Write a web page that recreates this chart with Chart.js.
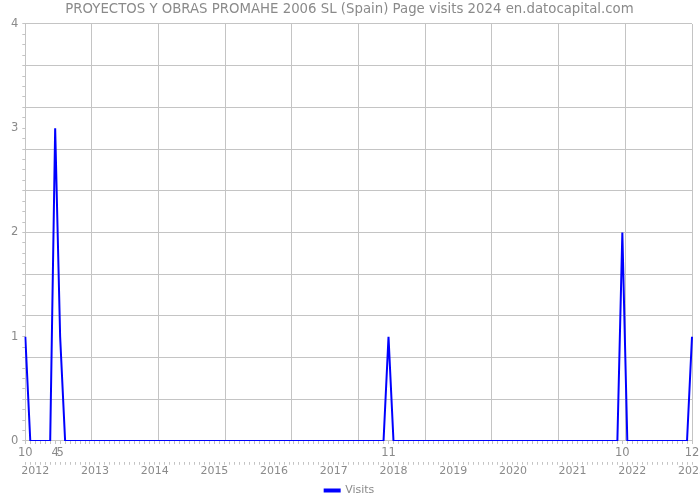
<!DOCTYPE html>
<html>
<head>
<meta charset="utf-8">
<script src="https://cdn.jsdelivr.net/npm/chart.js@4"></script>
<style>
html,body{margin:0;padding:0;background:#fff;}
#wrap{width:700px;height:500px;}
</style>
</head>
<body>
<div id="wrap"><canvas id="c" width="700" height="500"></canvas></div>
<script>
const titleText = 'PROYECTOS Y OBRAS PROMAHE 2006 SL (Spain) Page visits 2024 en.datocapital.com';
const seriesName = 'Visits';
const startYear = 2011;
const startMonth = 10;
// monthly visits, Oct 2011 .. Dec 2022
const visits = [
  1,0,0,                    // 2011 Oct-Dec
  0,0,0,3,1,0,0,0,0,0,0,0,  // 2012
  0,0,0,0,0,0,0,0,0,0,0,0,  // 2013
  0,0,0,0,0,0,0,0,0,0,0,0,  // 2014
  0,0,0,0,0,0,0,0,0,0,0,0,  // 2015
  0,0,0,0,0,0,0,0,0,0,0,0,  // 2016
  0,0,0,0,0,0,0,0,0,0,1,0,  // 2017
  0,0,0,0,0,0,0,0,0,0,0,0,  // 2018
  0,0,0,0,0,0,0,0,0,0,0,0,  // 2019
  0,0,0,0,0,0,0,0,0,0,0,0,  // 2020
  0,0,0,0,0,0,0,0,0,2,0,0,  // 2021
  0,0,0,0,0,0,0,0,0,0,0,1   // 2022
];
</script>
<script>
const monthNums = [];
const yearNums = [];
for (let i = 0; i < visits.length; i++) {
  const m0 = startMonth - 1 + i;
  monthNums.push((m0 % 12) + 1);
  yearNums.push(startYear + Math.floor(m0 / 12));
}
const catLabels = monthNums.map((m, i) => yearNums[i] + '-' + m);

const gridColor = '#c4c4c4';
const textColor = '#8a8a8a';
const fontFam = '"DejaVu Sans", sans-serif';

const noPad = (s) => { s.paddingLeft = 0; s.paddingRight = 0; };

new Chart(document.getElementById('c'), {
  type: 'line',
  data: {
    labels: catLabels,
    datasets: [{
      label: seriesName,
      data: visits,
      xAxisID: 'x',
      yAxisID: 'y',
      borderColor: '#0000ff',
      backgroundColor: '#0000ff',
      borderWidth: 2,
      pointRadius: 0,
      tension: 0,
      fill: false
    }]
  },
  options: {
    responsive: false,
    animation: false,
    layout: { padding: { left: 7, right: 8, top: 0, bottom: -6 } },
    plugins: {
      title: {
        display: true, text: titleText, color: textColor,
        font: { family: fontFam, size: 13.3, weight: 'normal' },
        padding: { top: 2, bottom: 6 }
      },
      legend: {
        position: 'bottom',
        labels: {
          color: textColor, boxWidth: 15, boxHeight: 2,
          font: { family: fontFam, size: 11 }, padding: 0
        }
      },
      tooltip: { enabled: false }
    },
    scales: {
      xg: {
        type: 'linear', position: 'top', min: 0, max: 10,
        ticks: { display: false, stepSize: 1 },
        grid: { color: gridColor, drawTicks: false },
        border: { display: false },
        afterFit: noPad
      },
      x: {
        type: 'category', position: 'bottom',
        offset: false,
        ticks: {
          autoSkip: false, maxRotation: 0, minRotation: 0,
          color: textColor, font: { family: fontFam, size: 11.5 }, padding: 2,
          callback: (v, i) => visits[i] > 0 ? String(monthNums[i]) : ''
        },
        grid: { drawOnChartArea: false, tickLength: 3, tickColor: gridColor, offset: false },
        border: { color: gridColor },
        afterFit: noPad
      },
      x2: {
        type: 'category', position: 'bottom',
        offset: false,
        labels: catLabels,
        ticks: {
          autoSkip: false, maxRotation: 0, minRotation: 0,
          color: textColor, font: { family: fontFam, size: 11 }, padding: 0,
          callback: (v, i) => monthNums[i] === 12 ? String(yearNums[i] + 1) : ''
        },
        grid: { drawOnChartArea: false, tickLength: 3, tickColor: gridColor, offset: false },
        border: { display: false },
        afterFit: (s) => { noPad(s); s.height += 7; }
      },
      y: {
        min: 0, max: 4,
        ticks: {
          stepSize: 0.1, maxTicksLimit: 100, autoSkip: false,
          color: textColor, font: { family: fontFam, size: 11.5 }, padding: 4,
          callback: (v) => Math.abs(v - Math.round(v)) < 1e-6 ? String(Math.round(v)) : ''
        },
        grid: {
          tickLength: 3,
          tickColor: gridColor,
          color: (ctx) => {
            const v = ctx.tick ? ctx.tick.value : 0;
            const k = v / 0.4;
            return Math.abs(k - Math.round(k)) < 1e-6 ? gridColor : 'rgba(0,0,0,0)';
          }
        },
        border: { color: gridColor }
      }
    }
  }
});
</script>
</body>
</html>
